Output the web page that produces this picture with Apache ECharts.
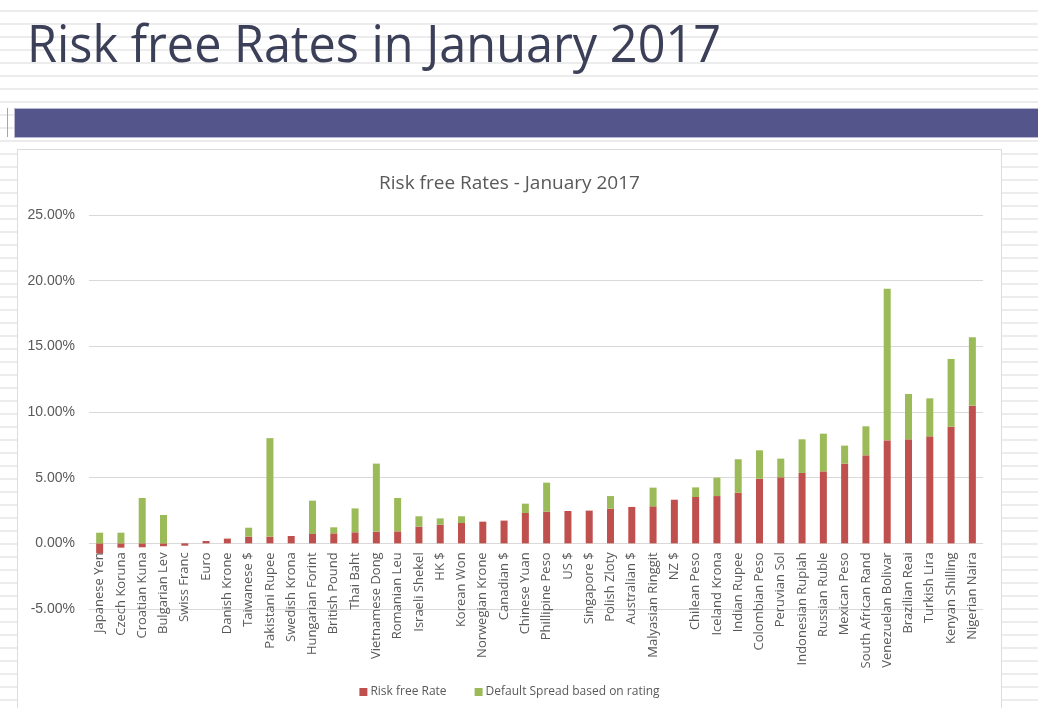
<!DOCTYPE html>
<html>
<head>
<meta charset="utf-8">
<script src="https://cdn.jsdelivr.net/npm/echarts@6/dist/echarts.min.js"></script>
<style>
  html, body { margin: 0; padding: 0; }
  body {
    width: 1038px; height: 708px; overflow: hidden; position: relative;
    background: #fff repeating-linear-gradient(to bottom, #fff 0px, #fff 10px, #ececec 10px, #ececec 12px, #fff 12px, #fff 13px);
  }
  .slide-title {
    position: absolute; left: 27px; top: 6px;
    font-family: "Open Sans", sans-serif; font-size: 52px; color: #3b3f58;
    transform-origin: left top; transform: scaleX(0.935);
    white-space: nowrap;
  }
  .band {
    position: absolute; left: 14px; top: 108px; width: 1030px; height: 28px;
    background: #54558a; border: 1px solid #b7b7cf;
  }
  .band-mark {
    position: absolute; left: 7px; top: 108px; width: 1px; height: 29px; background: #8fb0b0;
  }
  #riskFreeChart {
    position: absolute; left: 17px; top: 149px; width: 983px; height: 565px;
    background: #fff; border: 1px solid #dcdcdc;
  }
</style>
</head>
<body>
  <div class="slide-title">Risk free Rates in January 2017</div>
  <div class="band-mark"></div>
  <div class="band"></div>
  <div id="riskFreeChart"></div>
<script>
// 币种
var currencies = [
  'Japanese Yen', 'Czech Koruna', 'Croatian Kuna', 'Bulgarian Lev', 'Swiss Franc',
  'Euro', 'Danish Krone', 'Taiwanese $', 'Pakistani Rupee', 'Swedish Krona',
  'Hungarian Forint', 'British Pound', 'Thai Baht', 'Vietnamese Dong', 'Romanian Leu',
  'Israeli Shekel', 'HK $', 'Korean Won', 'Norwegian Krone', 'Canadian $',
  'Chinese Yuan', 'Phillipine Peso', 'US $', 'Singapore $', 'Polish Zloty',
  'Australian $', 'Malyasian Ringgit', 'NZ $', 'Chilean Peso', 'Iceland Krona',
  'Indian Rupee', 'Colombian Peso', 'Peruvian Sol', 'Indonesian Rupiah', 'Russian Ruble',
  'Mexican Peso', 'South African Rand', 'Venezuelan Bolivar', 'Brazilian Reai', 'Turkish Lira',
  'Kenyan Shilling', 'Nigerian Naira'
]
// 无风险利率 (%)
var riskFreeRate = [
  -0.76, -0.33, -0.30, -0.22, -0.18,
  0.18, 0.36, 0.51, 0.51, 0.56,
  0.71, 0.76, 0.84, 0.89, 0.91,
  1.27, 1.42, 1.55, 1.65, 1.73,
  2.31, 2.41, 2.46, 2.49, 2.64,
  2.77, 2.82, 3.32, 3.53, 3.60,
  3.86, 4.92, 5.03, 5.36, 5.48,
  6.07, 6.70, 7.84, 7.92, 8.15,
  8.88, 10.48
]
// 违约利差 (%)
var defaultSpread = [
  0.81, 0.81, 3.45, 2.16, 0,
  0, 0, 0.68, 7.50, 0,
  2.54, 0.46, 1.82, 5.18, 2.54,
  0.79, 0.48, 0.51, 0, 0,
  0.71, 2.21, 0, 0, 0.96,
  0, 1.42, 0, 0.73, 1.40,
  2.54, 2.16, 1.42, 2.56, 2.87,
  1.37, 2.21, 11.55, 3.45, 2.89,
  5.16, 5.21
]
var yTicks = { min: -5, max: 25, step: 5 }

var chartDom = document.getElementById('riskFreeChart')
var chart = echarts.init(chartDom)
var textColor = '#595959'
var gridTop = 65
var gridBottom = 106
// 类目轴放到 0 刻度处
var gridHeight = chartDom.clientHeight - gridTop - gridBottom
var zeroOffset = -gridHeight * (0 - yTicks.min) / (yTicks.max - yTicks.min)
var option = {
  animation: false,
  textStyle: { fontFamily: 'Open Sans, sans-serif' },
  title: {
    text: 'Risk free Rates - January 2017',
    left: 'center',
    top: 19,
    textStyle: { fontSize: 19, fontWeight: 'normal', color: textColor, fontFamily: 'Open Sans, sans-serif' }
  },
  legend: {
    data: ['Risk free Rate', 'Default Spread based on rating'],
    top: 531,
    left: 'center',
    itemWidth: 8,
    itemHeight: 8,
    itemGap: 28,
    icon: 'rect',
    textStyle: { fontSize: 12, color: textColor, fontFamily: 'Open Sans, sans-serif', padding: [0, 0, 0, -2] }
  },
  grid: {
    left: 71,
    right: 18,
    top: gridTop,
    bottom: gridBottom,
    containLabel: false,
    outerBoundsMode: 'none'
  },
  xAxis: {
    type: 'category',
    data: currencies,
    offset: zeroOffset,
    axisTick: { show: false },
    axisLine: { show: false, onZero: false },
    axisLabel: {
      rotate: 90,
      interval: 0,
      fontSize: 13,
      color: textColor,
      margin: 9,
      fontFamily: 'Open Sans, sans-serif'
    }
  },
  yAxis: {
    type: 'value',
    min: yTicks.min,
    max: yTicks.max,
    interval: yTicks.step,
    axisLine: { show: false },
    axisTick: { show: false },
    splitLine: { lineStyle: { color: '#d9d9d9', width: 1 } },
    axisLabel: {
      fontSize: 14,
      color: textColor,
      margin: 14,
      fontFamily: 'Liberation Sans, Arial, sans-serif',
      formatter: function(v) { return v.toFixed(2) + '%' }
    }
  },
  series: [
    {
      name: 'Risk free Rate',
      type: 'bar',
      stack: 'total',
      barWidth: 7,
      color: '#c0504d',
      data: riskFreeRate
    },
    {
      name: 'Default Spread based on rating',
      type: 'bar',
      stack: 'total',
      barWidth: 7,
      color: '#9bbb59',
      data: defaultSpread
    }
  ]
}
chart.setOption(option)
</script>
</body>
</html>
